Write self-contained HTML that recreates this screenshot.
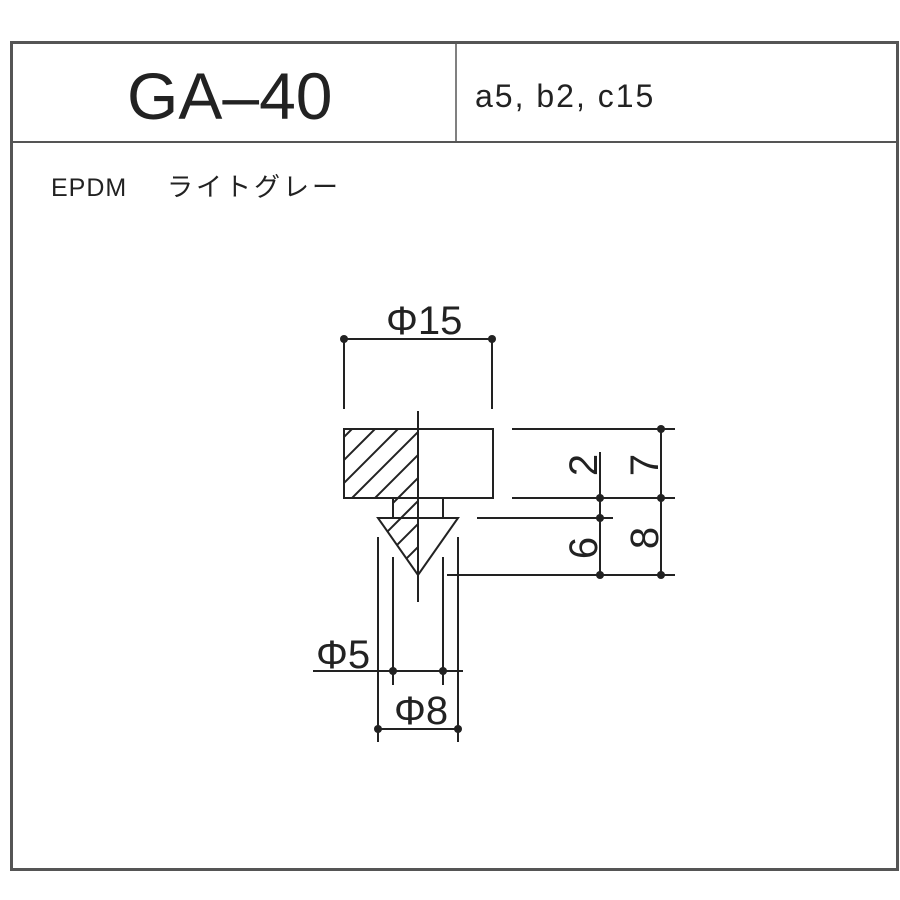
<!DOCTYPE html>
<html><head><meta charset="utf-8"><style>
html,body{margin:0;padding:0;background:#fff;width:900px;height:900px;overflow:hidden}
.t{position:absolute;font-family:"Liberation Sans","Noto Sans CJK JP",sans-serif;color:#222;white-space:nowrap;line-height:1}
</style></head><body>
<svg width="900" height="900" style="position:absolute;left:0;top:0">
<defs>
<clipPath id="hc"><polygon points="344,429 418,429 418,575 378,518 393,518 393,498 344,498"/></clipPath>
</defs>
<g fill="none" stroke="#555" stroke-width="3">
<rect x="11.5" y="42.5" width="886" height="827"/>
</g>
<line x1="12" y1="142" x2="896" y2="142" stroke="#555" stroke-width="2"/>
<line x1="456" y1="44" x2="456" y2="142" stroke="#555" stroke-width="1.5"/>
<g stroke="#222" stroke-width="2" fill="none">
<g clip-path="url(#hc)">
<line x1="330" y1="520" x2="440" y2="410"/>
<line x1="330" y1="497" x2="440" y2="387"/>
<line x1="330" y1="474" x2="440" y2="364"/>
<line x1="330" y1="451" x2="440" y2="341"/>
<line x1="330" y1="543" x2="440" y2="433"/>
<line x1="330" y1="566" x2="440" y2="456"/>
<line x1="330" y1="589" x2="440" y2="479"/>
<line x1="330" y1="612" x2="440" y2="502"/>
<line x1="330" y1="635" x2="440" y2="525"/>
</g>
<rect x="344" y="429" width="149" height="69"/>
<polyline points="393,498 393,518"/>
<polyline points="443,498 443,518"/>
<polygon points="378,518 458,518 418,575"/>
<line x1="418" y1="411" x2="418" y2="602"/>
<line x1="344" y1="339" x2="492" y2="339"/>
<line x1="344" y1="339" x2="344" y2="409"/>
<line x1="492" y1="339" x2="492" y2="409"/>
<line x1="512" y1="429" x2="675" y2="429"/>
<line x1="512" y1="498" x2="675" y2="498"/>
<line x1="477" y1="518" x2="613" y2="518"/>
<line x1="447" y1="575" x2="675" y2="575"/>
<line x1="600" y1="452" x2="600" y2="575"/>
<line x1="661" y1="429" x2="661" y2="575"/>
<line x1="378" y1="537" x2="378" y2="742"/>
<line x1="458" y1="537" x2="458" y2="742"/>
<line x1="393" y1="557" x2="393" y2="685"/>
<line x1="443" y1="557" x2="443" y2="685"/>
<line x1="313" y1="671" x2="463" y2="671"/>
<line x1="378" y1="729" x2="458" y2="729"/>
</g>
<g fill="#222">
<circle cx="344" cy="339" r="4"/><circle cx="492" cy="339" r="4"/>
<circle cx="661" cy="429" r="4"/><circle cx="600" cy="498" r="4"/><circle cx="661" cy="498" r="4"/>
<circle cx="600" cy="518" r="4"/><circle cx="600" cy="575" r="4"/><circle cx="661" cy="575" r="4"/>
<circle cx="393" cy="671" r="4"/><circle cx="443" cy="671" r="4"/>
<circle cx="378" cy="729" r="4"/><circle cx="458" cy="729" r="4"/>
</g>
<g font-family="Liberation Sans, sans-serif" font-size="40" fill="#222">
<text x="386" y="334">Φ15</text>
<text x="316" y="668">Φ5</text>
<text x="394" y="724">Φ8</text>
<text transform="translate(597,465) rotate(-90)" text-anchor="middle">2</text>
<text transform="translate(658,465) rotate(-90)" text-anchor="middle">7</text>
<text transform="translate(597,548) rotate(-90)" text-anchor="middle">6</text>
<text transform="translate(658,538) rotate(-90)" text-anchor="middle">8</text>
</g>
</svg>
<div class="t" style="left:127px;top:63px;font-size:66px">GA–40</div>
<div class="t" style="left:475px;top:80px;font-size:32px;letter-spacing:2px">a5, b2, c15</div>
<div class="t" style="left:51px;top:176px;font-size:25px;letter-spacing:1px">EPDM</div>
<div class="t" style="left:167px;top:174px;font-size:26px;letter-spacing:3px">ライトグレー</div>
</body></html>
